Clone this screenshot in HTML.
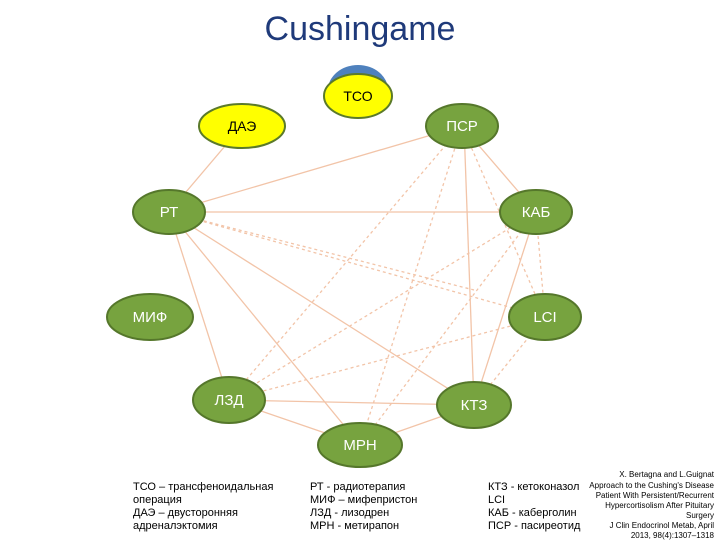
<!DOCTYPE html>
<html><head><meta charset="utf-8"><style>
body{margin:0;background:#fff;width:720px;height:540px;overflow:hidden;font-family:"Liberation Sans",sans-serif}
</style></head><body>
<svg width="720" height="540" xmlns="http://www.w3.org/2000/svg" font-family="Liberation Sans, DejaVu Sans, sans-serif">
<text x="360" y="40" text-anchor="middle" font-size="34" fill="#1f3a7a">Cushingame</text>
<g stroke="#f2c4a8" stroke-width="1.3" fill="none">
<line x1="242" y1="126" x2="169" y2="212"/>
<line x1="462" y1="126" x2="169" y2="212"/>
<line x1="169" y1="212" x2="536" y2="212"/>
<line x1="462" y1="126" x2="536" y2="212"/>
<line x1="464" y1="126" x2="474" y2="405"/>
<line x1="169" y1="212" x2="229" y2="400"/>
<line x1="169" y1="212" x2="360" y2="445"/>
<line x1="169" y1="212" x2="474" y2="405"/>
<line x1="536" y1="212" x2="474" y2="405"/>
<line x1="229" y1="400" x2="474" y2="405"/>
<line x1="229" y1="400" x2="360" y2="445"/>
<line x1="360" y1="445" x2="474" y2="405"/>
</g>
<g stroke="#f2c4a8" stroke-width="1.3" fill="none" stroke-dasharray="3,3">
<line x1="169" y1="212" x2="545" y2="317"/>
<line x1="462" y1="126" x2="229" y2="400"/>
<line x1="462" y1="126" x2="360" y2="445"/>
<line x1="462" y1="126" x2="545" y2="317"/>
<line x1="536" y1="212" x2="229" y2="400"/>
<line x1="536" y1="212" x2="360" y2="445"/>
<line x1="536" y1="212" x2="545" y2="317"/>
<line x1="545" y1="317" x2="229" y2="400"/>
<line x1="545" y1="317" x2="474" y2="405"/>
<line x1="169" y1="212" x2="474" y2="290"/>
</g>
<ellipse cx="358" cy="90" rx="30" ry="25" fill="#4f81bd"/>
<ellipse cx="358" cy="96" rx="34" ry="22" fill="#ffff00" stroke="#5b7a2a" stroke-width="2"/>
<text x="358" y="101" text-anchor="middle" font-size="14" fill="#000">ТСО</text>
<ellipse cx="242" cy="126" rx="43" ry="22" fill="#ffff00" stroke="#5b7a2a" stroke-width="2"/>
<text x="242" y="131" text-anchor="middle" font-size="14" fill="#000">ДАЭ</text>
<g fill="#77a33f" stroke="#55772b" stroke-width="2">
<ellipse cx="462" cy="126" rx="36" ry="22"/>
<ellipse cx="169" cy="212" rx="36" ry="22"/>
<ellipse cx="536" cy="212" rx="36" ry="22"/>
<ellipse cx="150" cy="317" rx="43" ry="23"/>
<ellipse cx="545" cy="317" rx="36" ry="23"/>
<ellipse cx="229" cy="400" rx="36" ry="23"/>
<ellipse cx="474" cy="405" rx="37" ry="23"/>
<ellipse cx="360" cy="445" rx="42" ry="22"/>
</g>
<g fill="#fff" font-size="15" text-anchor="middle">
<text x="462" y="131">ПСР</text>
<text x="169" y="217">РТ</text>
<text x="536" y="217">КАБ</text>
<text x="150" y="322">МИФ</text>
<text x="545" y="322">LCI</text>
<text x="229" y="405">ЛЗД</text>
<text x="474" y="410">КТЗ</text>
<text x="360" y="450">МРН</text>
</g>
<g font-size="11" fill="#000">
<text x="133" y="490">ТСО – трансфеноидальная</text>
<text x="133" y="503">операция</text>
<text x="133" y="516">ДАЭ – двусторонняя</text>
<text x="133" y="529">адреналэктомия</text>
<text x="310" y="490">РТ - радиотерапия</text>
<text x="310" y="503">МИФ – мифепристон</text>
<text x="310" y="516">ЛЗД - лизодрен</text>
<text x="310" y="529">МРН - метирапон</text>
<text x="488" y="490">КТЗ - кетоконазол</text>
<text x="488" y="503">LCI</text>
<text x="488" y="516">КАБ - каберголин</text>
<text x="488" y="529">ПСР - пасиреотид</text>
</g>
<g font-size="8" fill="#000" text-anchor="end">
<text x="714" y="477">X. Bertagna and L.Guignat</text>
<text x="714" y="488">Approach to the Cushing's Disease</text>
<text x="714" y="498">Patient With Persistent/Recurrent</text>
<text x="714" y="508">Hypercortisolism After Pituitary</text>
<text x="714" y="518">Surgery</text>
<text x="714" y="528">J Clin Endocrinol Metab, April</text>
<text x="714" y="538">2013, 98(4):1307–1318</text>
</g>
</svg>
</body></html>
